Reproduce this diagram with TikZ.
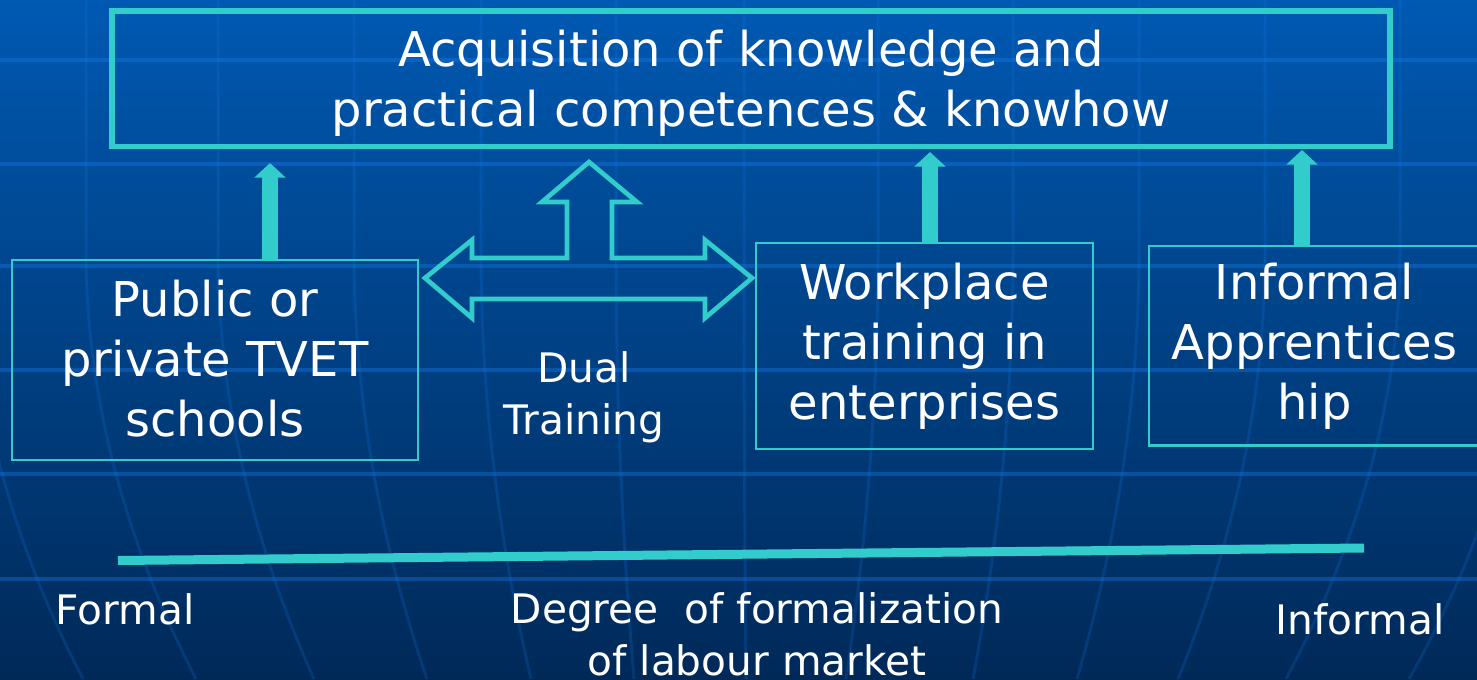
\documentclass[tikz,border=0pt]{standalone}
\usepackage{fontspec}
\setmainfont{DejaVu Sans}
\usetikzlibrary{arrows.meta}

\definecolor{tealline}{RGB}{51,204,204}
\definecolor{bgtop}{RGB}{0,89,178}
\definecolor{bgmid}{RGB}{0,66,138}
\definecolor{bgbot}{RGB}{0,41,88}
\definecolor{gridblue}{RGB}{20,120,230}

\tikzset{every picture/.style={line width=0.75pt}}
\tikzset{
  box/.style={draw=tealline, text=white, align=center, inner sep=0pt, line width=2pt},
  bigtext/.style={font=\fontsize{36}{45}\selectfont},
  smalltext/.style={text=white, align=center, inner sep=0pt, font=\fontsize{30.5}{39}\selectfont},
  uparrow/.style={draw=tealline, line width=12pt, -{Triangle[width=23pt,length=11pt]}},
  dblarrow/.style={draw=tealline, line width=3.5pt, line join=miter},
  axisline/.style={draw=tealline, line width=6.75pt},
  gridline/.style={draw=gridblue, opacity=0.4, line width=3pt},
  meridian/.style={draw=gridblue, opacity=0.2, line width=2.25pt},
}

\begin{document}
\begin{tikzpicture}[x=0.75pt,y=0.75pt,yscale=-1,xscale=1]
\useasboundingbox (0,0) rectangle (1477,679);

%Shape: Background
\fill[top color=bgtop, middle color=bgmid, bottom color=bgbot] (0,0) rectangle (1477,679);
\begin{scope}
\clip (0,0) rectangle (1477,679);
\foreach \gy in {60,164,266,370,474,579}
  \draw[gridline] (0,\gy) -- (1477,\gy);
\foreach \p/\q in {-28/83,86/196,218/314,354/427,481/531,616/634,744/746,878/846,1013/973,1139/1077,1265/1178,1400/1286,1530/1409}
  \draw[meridian] (\p,-5) -- (\p,250) .. controls (\p,393) and ({\q+(\p-\q)*2/3},536) .. (\q,679);
\end{scope}

%Shape: Rectangle
\node[box, line width=4pt, bigtext, text depth=0pt, minimum width=958.5pt, minimum height=101.6pt] (goal) at (751,78.75) {Acquisition of knowledge and\\practical competences \& knowhow};
%Shape: Rectangle
\node[box, bigtext, text depth=2pt, minimum width=304.5pt, minimum height=150pt] (tvet) at (215,360) {Public or\\private TVET\\schools};
%Shape: Rectangle
\node[box, bigtext, minimum width=252.75pt, minimum height=154.5pt] (work) at (924.5,346) {Workplace\\training in\\enterprises};
%Shape: Rectangle
\node[box, bigtext, minimum width=248.25pt, minimum height=149.6pt] (appr) at (1314.5,345.75) {Informal\\Apprentices\\hip};

%Straight Lines
\coordinate (tipA) at (270,163);
\coordinate (tipC) at (930,152);
\coordinate (tipD) at (1302,150);
\draw[uparrow] (tvet.north -| tipA) -- (tipA);
\draw[uparrow] (work.north -| tipC) -- (tipC);
\draw[uparrow] (appr.north -| tipD) -- (tipD);

%Shape: Up and Left-Right Arrow
\draw[dblarrow] (425,278) -- (472,240) -- (472,258) -- (567,258) -- (567,202) -- (542,202) -- (589,162) -- (637,202) -- (612,202) -- (612,258) -- (705,258) -- (705,240) -- (752,278) -- (705,318) -- (705,299) -- (472,299) -- (472,318) -- cycle;

%Straight Lines
\coordinate (axisL) at (118,560.5);
\coordinate (axisR) at (1364,548);
\draw[axisline] (axisL) -- (axisR);

% Text Node
\node[smalltext] (dual) at (584,397) {Dual\\Training};
% Text Node
\node[smalltext, anchor=base] (formal) at (125,624) {Formal};
% Text Node
\node[smalltext, anchor=north] (degree) at (757,592) {Degree~ of formalization\\of labour market};
% Text Node
\node[smalltext, anchor=base] (informal) at (1360,634) {Informal};

\end{tikzpicture}
\end{document}
